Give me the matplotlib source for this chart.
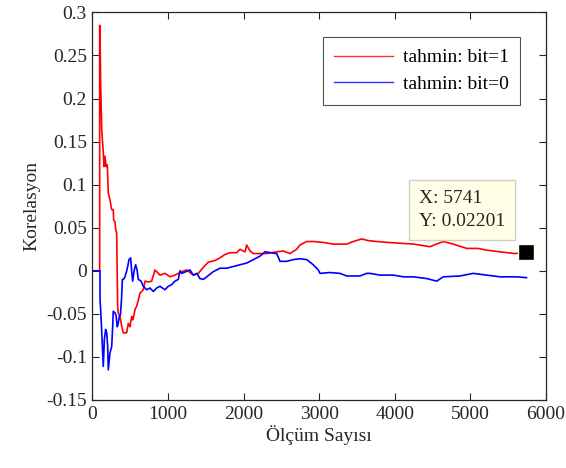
import matplotlib
matplotlib.use("Agg")
import matplotlib.pyplot as plt

# bit=1 guess (red)
red_x = [0, 95, 95, 103, 108, 122, 143, 152, 165, 179,
         196, 209, 232, 254, 275, 280, 298, 307, 320, 333,
         341, 364, 386, 407, 452, 474, 496, 519, 536, 562,
         585, 606, 628, 672, 695, 740, 783, 827, 849, 893,
         959, 1025, 1090, 1180, 1246, 1334, 1400, 1466, 1532, 1620,
         1687, 1753, 1819, 1908, 1951, 2018, 2040, 2084, 2128, 2305,
         2437, 2525, 2613, 2701, 2745, 2834, 2921, 3050, 3186, 3363,
         3450, 3561, 3650, 3760, 3900, 4068, 4250, 4465, 4550, 4641,
         4773, 4950, 5100, 5215, 5391, 5590, 5741]
red_y = [0, 0, 0.285, 0.253, 0.218, 0.164, 0.137, 0.121, 0.133, 0.121,
         0.123, 0.090, 0.082, 0.071, 0.071, 0.059, 0.057, 0.048, 0.044, -0.041,
         -0.049, -0.053, -0.064, -0.072, -0.072, -0.061, -0.065, -0.053, -0.057, -0.045,
         -0.041, -0.034, -0.026, -0.022, -0.012, -0.013, -0.012, 0.001, -0.001, -0.005,
         -0.003, -0.007, -0.005, -0.001, 0.001, -0.005, -0.003, 0.004, 0.010, 0.012,
         0.015, 0.019, 0.021, 0.021, 0.025, 0.022, 0.030, 0.023, 0.020, 0.020,
         0.022, 0.023, 0.020, 0.025, 0.030, 0.034, 0.034, 0.033, 0.031, 0.031,
         0.034, 0.037, 0.035, 0.034, 0.033, 0.032, 0.031, 0.028, 0.031, 0.034,
         0.031, 0.026, 0.026, 0.024, 0.022, 0.020, 0.022]

# bit=0 guess (blue)
blue_x = [0, 99, 100, 108, 121, 143, 157, 174, 188, 201,
          209, 232, 254, 267, 275, 298, 312, 328, 341, 355,
          370, 386, 395, 410, 430, 450, 466, 483, 505, 519,
          532, 553, 571, 590, 606, 642, 672, 717, 761, 805,
          849, 893, 959, 1003, 1048, 1091, 1135, 1158, 1180, 1290,
          1334, 1380, 1422, 1466, 1511, 1598, 1687, 1775, 1863, 1951,
          2040, 2128, 2216, 2282, 2437, 2481, 2569, 2657, 2745, 2834,
          2921, 2987, 3010, 3142, 3274, 3363, 3539, 3627, 3671, 3804,
          3892, 3980, 4112, 4244, 4421, 4554, 4641, 4862, 5038, 5215,
          5391, 5612, 5741]
blue_y = [0, 0, -0.034, -0.045, -0.068, -0.111, -0.080, -0.068, -0.072, -0.088,
          -0.115, -0.095, -0.088, -0.065, -0.047, -0.049, -0.052, -0.065, -0.061, -0.053,
          -0.051, -0.030, -0.010, -0.010, -0.007, -0.001, 0.005, 0.013, 0.015, -0.001,
          -0.012, 0.001, 0.007, 0.001, -0.010, -0.012, -0.018, -0.022, -0.020, -0.024,
          -0.020, -0.018, -0.022, -0.018, -0.016, -0.012, -0.010, 0.0, -0.003, 0.001,
          -0.005, -0.003, -0.009, -0.010, -0.007, -0.001, 0.003, 0.003, 0.005, 0.007,
          0.009, 0.013, 0.017, 0.022, 0.020, 0.011, 0.011, 0.013, 0.014, 0.013,
          0.007, 0.001, -0.003, -0.002, -0.003, -0.006, -0.006, -0.003, -0.003, -0.005,
          -0.005, -0.005, -0.007, -0.007, -0.009, -0.012, -0.007, -0.006, -0.003, -0.005,
          -0.007, -0.007, -0.008]

legend_labels = ["tahmin: bit=1", "tahmin: bit=0"]
tip_x, tip_y = 5741, 0.02201

plt.rcParams['font.family'] = ['Liberation Serif', 'DejaVu Serif']
plt.rcParams['font.size'] = 14

fig = plt.figure(figsize=(5.66, 4.68), dpi=100)
ax = fig.add_axes([0.1634, 0.1453, 0.8013, 0.8282])

ax.plot(red_x, red_y, color='#FF0000', lw=1.2, label=legend_labels[0])
ax.plot(blue_x, blue_y, color='#0000FF', lw=1.2, label=legend_labels[1])

ax.set_xlim(0, 6000)
ax.set_ylim(-0.15, 0.3)
ax.set_xticks(range(0, 6001, 1000))
ax.set_yticks([-0.15, -0.1, -0.05, 0, 0.05, 0.1, 0.15, 0.2, 0.25, 0.3])
ax.set_yticklabels(['-0.15', '-0.1', '-0.05', '0', '0.05', '0.1', '0.15', '0.2', '0.25', '0.3'])
ax.tick_params(direction='in', top=True, right=True, length=5, width=0.8,
               colors='#262626', labelsize=14, pad=4)
for s in ax.spines.values():
    s.set_color('#262626')
    s.set_linewidth(0.9)

ax.set_xlabel('Ölçüm Sayısı', fontsize=14, color='#262626', labelpad=2)
ax.set_ylabel('Korelasyon', fontsize=14, color='#262626', labelpad=4)

leg = ax.legend(loc='upper right', bbox_to_anchor=(0.943, 0.936), borderaxespad=0,
                fontsize=14, frameon=True, fancybox=False, handlelength=3.0,
                handletextpad=0.5, borderpad=0.6, labelspacing=0.45)
leg.get_frame().set_edgecolor('#262626')
leg.get_frame().set_linewidth(0.8)
for ln in leg.get_lines():
    ln.set_linewidth(1.0)
    ln.set_alpha(0.8)

# data tip
ax.plot([tip_x], [tip_y], marker='s', markersize=12, color='black',
        markeredgecolor='#FFFFE0', markeredgewidth=1.0, zorder=5)
ax.annotate(f"X: {tip_x}\nY: {tip_y}", xy=(tip_x, tip_y), xytext=(-21, 22),
            textcoords='offset pixels', ha='right', va='bottom', fontsize=14,
            multialignment='left', color='#262626', linespacing=1.45,
            bbox=dict(boxstyle='square,pad=0.5', fc='#FFFFE8', ec='#D0D0C0', lw=1.0),
            zorder=6)

plt.savefig('out.png', dpi=100)
plt.close()
